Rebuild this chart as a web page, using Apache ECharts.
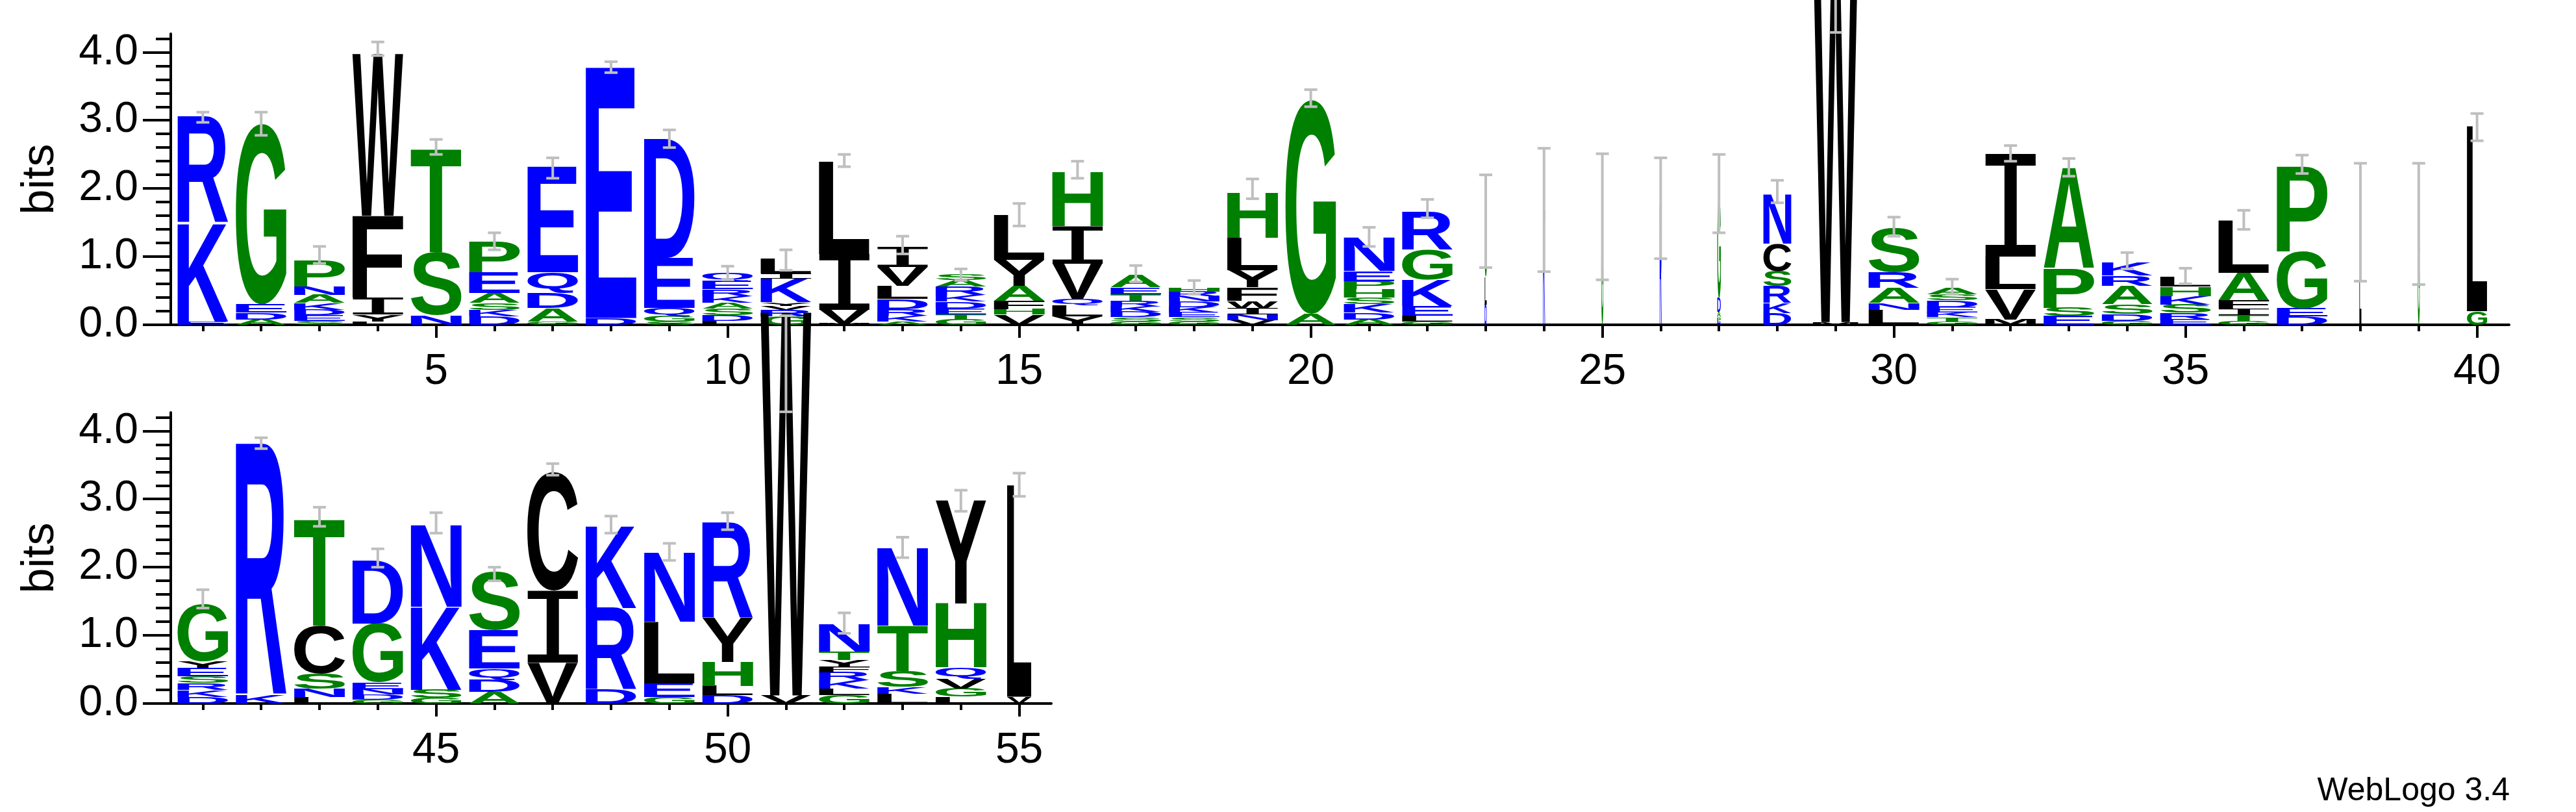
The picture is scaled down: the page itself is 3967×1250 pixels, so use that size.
<!DOCTYPE html>
<html><head><meta charset="utf-8">
<script src="https://cdn.jsdelivr.net/npm/echarts@6/dist/echarts.min.js"></script>
<style>html,body{margin:0;padding:0;background:#fff}</style>
</head><body>
<div id="c" style="width:3967px;height:1250px"></div>
<script>
const positions = [1,2,3,4,5,6,7,8,9,10,11,12,13,14,15,16,17,18,19,20,21,22,23,24,25,26,27,28,29,30,31,32,33,34,35,36,37,38,39,40,41,42,43,44,45,46,47,48,49,50,51,52,53,54,55];
const stackLetters = ['EKR','ADEG','SEDKANP','LYIFW','NST','DKSAEP','GADQE','DE','SGQED','LDSAKREQ',
 'GRVYKIL','MVIL','AKRDLVI','GTEDKRAS','VHFAYL','YLQVIH','GSDKRTEA','GSEKDNRH','VNIWFYLH','AG',
 'ADKSHPEN','GLEKGR','DLG','K','G','R','RPADG','DKRSCN','MW','LNARS',
 'GTKEDSA','MVLI','ESPA','GDSARK','ERSKHL','GTIFAL','DEGP','L','G','GL',
 'DKRSEYG','KR','LNSCT','GDNEGD','GSKN','ADQES','VIC','DRK','GELN','DLHYR',
 'VW','GLKRFYTN','LKSTN','LGVQHY','VL'];
const stackHeights = [
 [0.05,1.44,1.56],[0.08,0.1,0.12,2.65],[0.06,0.08,0.08,0.1,0.12,0.12,0.38],[0.05,0.1,0.25,1.2,2.38],[0.14,0.93,1.51],
 [0.12,0.1,0.1,0.15,0.3,0.45],[0.05,0.2,0.22,0.3,1.55],[0.1,3.68],[0.05,0.08,0.12,0.73,1.75],[0.06,0.08,0.1,0.08,0.1,0.1,0.12,0.12],
 [0.12,0.1,0.06,0.05,0.35,0.07,0.22],[0.02,0.2,0.82,1.35],[0.05,0.08,0.1,0.15,0.19,0.28,0.3],[0.08,0.07,0.09,0.1,0.1,0.12,0.1,0.08],[0.15,0.08,0.12,0.22,0.38,0.66],
 [0.12,0.16,0.1,0.52,0.55,0.8],[0.05,0.06,0.08,0.08,0.08,0.1,0.1,0.18],[0.05,0.06,0.07,0.08,0.08,0.08,0.07,0.06],[0.07,0.08,0.1,0.1,0.2,0.25,0.48,0.66],[0.16,3.14],
 [0.08,0.1,0.12,0.1,0.12,0.12,0.15,0.49],[0.05,0.08,0.15,0.38,0.44,0.55],[0.3,0.4,0.8],[1.68],[1.58],
 [1.75],[0.05,0.06,0.08,0.2,1.45],[0.17,0.15,0.25,0.22,0.4,0.72],[0.04,5.66],[0.22,0.1,0.22,0.23,0.65],
 [0.05,0.06,0.07,0.08,0.1,0.09,0.1],[0.08,0.44,0.48,1.5],[0.13,0.12,0.58,1.47],[0.06,0.1,0.14,0.27,0.15,0.2],[0.08,0.1,0.12,0.12,0.14,0.14],
 [0.06,0.08,0.1,0.12,0.4,0.77],[0.12,0.12,0.84,1.26],[1.46],[1.45],[0.2,2.72],
 [0.1,0.1,0.1,0.1,0.12,0.1,0.84],[0.12,3.7],[0.1,0.12,0.22,0.7,1.56],[0.06,0.07,0.08,0.1,0.86,0.93],[0.08,0.12,1.22,1.2],
 [0.17,0.18,0.16,0.56,0.85],[0.6,1.05,1.73],[0.2,1.2,1.2],[0.1,0.2,0.9,1.02],[0.12,0.14,0.35,0.65,1.4],
 [0.12,5.63],[0.12,0.1,0.12,0.12,0.08,0.1,0.12,0.4],[0.14,0.1,0.24,0.66,1.14],[0.1,0.12,0.15,0.16,0.94,1.52],[0.1,3.11]];
const stackWidths = [1,1,1,1,1,1,1,1,1,1, 1,1,1,1,1,1,1,1,1,1, 1,1,0.04,0.04,0.04,0.04,0.07,0.55,0.9,1, 1,1,1,1,1,1,1,0.04,0.04,0.4, 1,1,1,1,1,1,1,1,1,1, 1,1,1,1,0.48];
const errLow  = [2.97,2.78,0.9,3.95,2.5,1.1,2.15,3.7,2.6,0.66, 0.8,2.32,1.04,0.65,1.45,2.15,0.63,0.45,1.85,3.2, 1.15,1.57,0.84,0.78,0.66,0.97,1.35,1.79,4.29,1.3, 0.45,2.4,2.18,0.82,0.6,1.4,2.22,0.64,0.59,2.7, 1.4,3.74,2.6,2.0,2.5,1.8,3.35,2.5,2.1,2.55, 4.28,1.03,2.14,2.82,3.04];
const errHigh = [3.12,3.12,1.15,4.15,2.72,1.35,2.45,3.86,2.86,0.86, 1.1,2.5,1.3,0.82,1.78,2.4,0.87,0.65,2.14,3.45, 1.43,1.84,2.2,2.59,2.51,2.45,2.5,2.12,5.72,1.58, 0.67,2.63,2.44,1.06,0.83,1.68,2.49,2.37,2.37,3.1, 1.67,3.9,2.88,2.27,2.8,2.0,3.52,2.75,2.35,2.8, 5.69,1.33,2.44,3.13,3.38];
const yMajorTicks = [0,1,2,3,4];
const yMinorTicks = [0,0.2,0.4,0.6,0.8,1,1.2,1.4,1.6,1.8,2,2.2,2.4,2.6,2.8,3,3.2,3.4,3.6,3.8,4,4.2];
const xLabelsTop = [5,10,15,20,25,30,35,40];
const xLabelsBottom = [45,50,55];

const GREEN = '#008000', BLUE = '#0000ff', BLACK = '#000000';
function colorOf(ch){ if('GSTHAP'.includes(ch)) return GREEN; if('KREDNQ'.includes(ch)) return BLUE; return BLACK; }

const cv = document.createElement('canvas').getContext('2d');
const metricCache = {};
function metrics(ch){
  if(metricCache[ch]) return metricCache[ch];
  const font = ch === 'I' ? '200px "DejaVu Sans Mono"' : 'bold 200px "Liberation Sans"';
  cv.font = font; cv.textBaseline = 'middle'; cv.textAlign = 'left';
  const m = cv.measureText(ch);
  const r = {font, L:m.actualBoundingBoxLeft, A:m.actualBoundingBoxAscent,
    w:m.actualBoundingBoxLeft + m.actualBoundingBoxRight, h:m.actualBoundingBoxAscent + m.actualBoundingBoxDescent};
  metricCache[ch] = r; return r;
}

function buildLetters(from, to){
  const data = [], chars = [];
  positions.forEach((p, i) => {
    if(p < from || p > to) return;
    let base = 0;
    stackHeights[i].forEach((h, k) => {
      data.push([p, base, base + h, stackWidths[i]]);
      chars.push(stackLetters[i][k]);
      base += h;
    });
  });
  return {data, chars};
}
function buildErr(from, to){
  const d = [];
  positions.forEach((p, i) => { if(p >= from && p <= to) d.push([p, errLow[i], errHigh[i]]); });
  return d;
}
function letterRender(chars){
  return function(params, api){
    const pos = api.value(0), y0 = api.value(1), y1 = api.value(2), w = api.value(3);
    const half = 0.435 * w;
    const p0 = api.coord([pos - half, y0]), p1 = api.coord([pos + half, y1]);
    const ch = chars[params.dataIndex], m = metrics(ch);
    const W = Math.max(p1[0] - p0[0], 0.5), H = Math.max(p0[1] - p1[1], 0.5);
    return {type:'text', x:p0[0], y:p1[1], scaleX:W / m.w, scaleY:H / m.h, silent:true,
      style:{text:ch, x:m.L, y:m.A - 100, font:m.font, fill:colorOf(ch), align:'left', verticalAlign:'top', lineHeight:200}};
  };
}
function errRender(params, api){
  const pos = api.value(0);
  const a = api.coord([pos, api.value(1)]), b = api.coord([pos, api.value(2)]);
  const st = {stroke:'#bfbfbf', lineWidth:4};
  return {type:'group', silent:true, children:[
    {type:'line', shape:{x1:a[0], y1:a[1], x2:b[0], y2:b[1]}, style:st},
    {type:'line', shape:{x1:a[0]-10, y1:a[1], x2:a[0]+10, y2:a[1]}, style:st},
    {type:'line', shape:{x1:b[0]-10, y1:b[1], x2:b[0]+10, y2:b[1]}, style:st}
  ]};
}

const FONT = 'Liberation Sans';
function xAxes(grid, min, max, minorVals, labelVals){
  return [
    {type:'value', gridIndex:grid, min, max, position:'bottom',
     axisLine:{show:true, onZero:false, lineStyle:{color:'#000', width:4}},
     axisTick:{show:true, length:10, lineStyle:{color:'#000', width:4}, customValues:minorVals},
     axisLabel:{show:false}, splitLine:{show:false}},
    {type:'value', gridIndex:grid, min, max, position:'bottom',
     axisLine:{show:false, onZero:false},
     axisTick:{show:true, length:20, lineStyle:{color:'#000', width:4}, customValues:labelVals},
     axisLabel:{show:true, customValues:labelVals, margin:40, fontSize:66, fontFamily:FONT, color:'#000'},
     splitLine:{show:false}}
  ];
}
function yAxes(grid){
  return [
    {type:'value', gridIndex:grid, min:0, max:4.27, position:'left',
     axisLine:{show:true, onZero:false, lineStyle:{color:'#000', width:4}},
     axisTick:{show:true, length:23, lineStyle:{color:'#000', width:4}, customValues:yMinorTicks},
     axisLabel:{show:false}, splitLine:{show:false},
     name:'bits', nameLocation:'middle', nameGap:165, nameRotate:90,
     nameTextStyle:{fontSize:70, fontFamily:FONT, color:'#000'}},
    {type:'value', gridIndex:grid, min:0, max:4.27, position:'left',
     axisLine:{show:false},
     axisTick:{show:true, length:43, lineStyle:{color:'#000', width:4}, customValues:yMajorTicks},
     axisLabel:{show:true, customValues:yMajorTicks, margin:50, fontSize:66, fontFamily:FONT, color:'#000',
       formatter:v => Number(v).toFixed(1)},
     splitLine:{show:false}}
  ];
}
const lettersTop = buildLetters(1, 40), lettersBot = buildLetters(41, 55);
const minorTop = positions.filter(p => p <= 40), minorBot = positions.filter(p => p > 40);

const chart = echarts.init(document.getElementById('c'), null, {renderer:'canvas'});
chart.setOption({
  animation:false, backgroundColor:'#fff',
  grid:[{left:263, top:52, width:3601, height:448}, {left:263, top:635, width:1356, height:448}],
  xAxis:[...xAxes(0, 0.45, 40.55, minorTop, xLabelsTop), ...xAxes(1, 40.45, 55.55, minorBot, xLabelsBottom)],
  yAxis:[...yAxes(0), ...yAxes(1)],
  graphic:[{type:'text', right:102, top:1193, style:{text:'WebLogo 3.4', font:'50px "Liberation Sans"', fill:'#000'}}],
  series:[
    {type:'custom', xAxisIndex:0, yAxisIndex:0, clip:false, z:2, renderItem:letterRender(lettersTop.chars), data:lettersTop.data},
    {type:'custom', xAxisIndex:2, yAxisIndex:2, clip:false, z:2, renderItem:letterRender(lettersBot.chars), data:lettersBot.data},
    {type:'custom', xAxisIndex:0, yAxisIndex:0, clip:false, z:3, renderItem:errRender, data:buildErr(1, 40)},
    {type:'custom', xAxisIndex:2, yAxisIndex:2, clip:false, z:3, renderItem:errRender, data:buildErr(41, 55)}
  ]
});
</script>
</body></html>
